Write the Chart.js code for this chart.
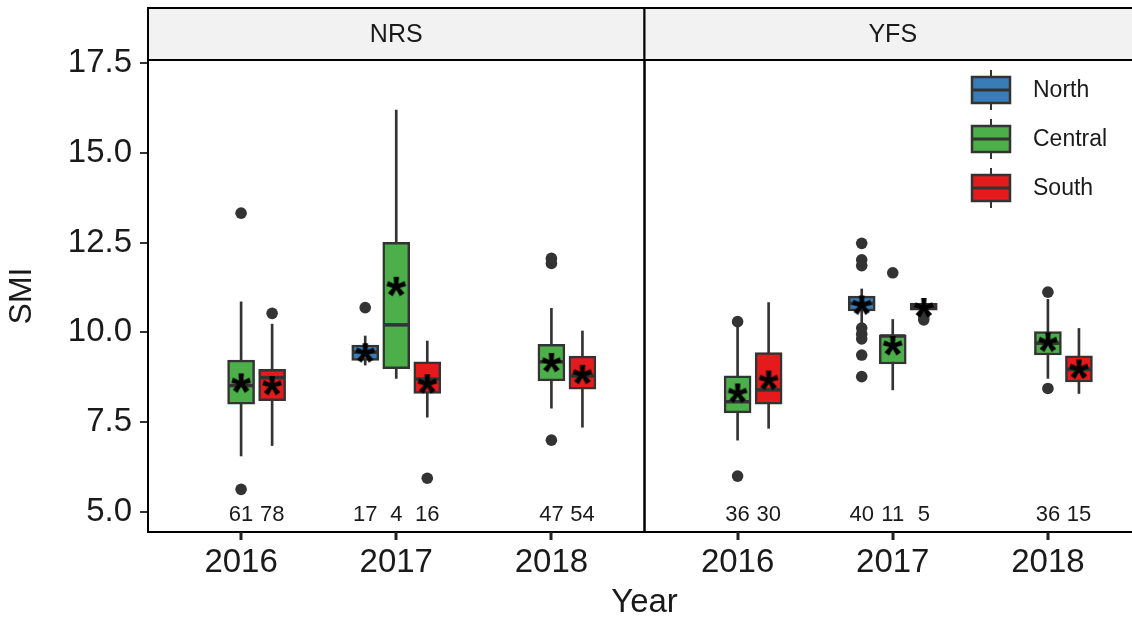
<!DOCTYPE html>
<html>
<head>
<meta charset="utf-8">
<script src="https://cdn.jsdelivr.net/npm/chart.js@4.4.1/dist/chart.umd.min.js"></script>
<style>
  html, body { margin: 0; padding: 0; background: #fff; overflow: hidden; width: 1132px; height: 619px; }
  canvas { display: block; }
</style>
</head>
<body>
<canvas id="smi" width="1142" height="619" style="width:1142px;height:619px"></canvas>
<script>
// ---- data ----
const sites = ['NRS', 'YFS'];
const years = ['2016', '2017', '2018'];
const regions = ['North', 'Central', 'South'];

const boxSite   = ['NRS', 'NRS', 'NRS', 'NRS', 'NRS', 'NRS', 'NRS', 'YFS', 'YFS', 'YFS', 'YFS', 'YFS', 'YFS', 'YFS'];
const boxYear   = ['2016', '2016', '2017', '2017', '2017', '2018', '2018', '2016', '2016', '2017', '2017', '2017', '2018', '2018'];
const boxRegion = ['Central', 'South', 'North', 'Central', 'South', 'Central', 'South', 'Central', 'South', 'North', 'Central', 'South', 'Central', 'South'];

const whiskerLow    = [6.56, 6.85, 9.09, 8.72, 7.64, 7.89, 7.36, 7.00, 7.33, 10.26, 8.40, 10.62, 8.72, 8.30];
const lowerQuartile = [8.00, 8.10, 9.22, 8.99, 8.30, 8.65, 8.42, 7.76, 8.00, 10.60, 9.12, 10.62, 9.37, 8.62];
const medianSMI     = [8.52, 8.74, 9.45, 10.21, 8.70, 9.18, 8.79, 8.07, 8.40, 10.81, 9.90, 10.70, 9.70, 8.97];
const upperQuartile = [9.23, 8.97, 9.65, 12.51, 9.18, 9.67, 9.34, 8.79, 9.44, 11.01, 9.93, 10.81, 10.02, 9.35];
const whiskerHigh   = [10.85, 10.23, 9.90, 16.19, 9.76, 10.67, 10.04, 10.20, 10.83, 11.21, 10.36, 10.81, 10.92, 10.11];
const meanSMI       = [8.58, 8.51, 9.42, 11.27, 8.56, 9.15, 8.82, 8.30, 8.66, 10.75, 9.62, 10.68, 9.72, 8.97];
const sampleSize    = [61, 78, 17, 4, 16, 47, 54, 36, 30, 40, 11, 5, 36, 15];
const outlierSMI = [
  [13.32, 5.63], [10.53], [10.69], [], [5.94], [12.06, 11.92, 7.00], [],
  [10.30, 6.00], [], [12.48, 12.02, 11.86, 10.12, 9.95, 9.82, 9.37, 8.77], [11.66], [10.44, 10.35], [11.12, 8.44], []
];
const yTicks = [5.0, 7.5, 10.0, 12.5, 15.0, 17.5];

// ---- styling & layout ----
const FONT = '"Liberation Sans", Arial, Helvetica, sans-serif';
const regionFill = { North: '#377EB8', Central: '#4DAF4A', South: '#E41A1C' };
const INK = '#333333';
const TEXT = '#1a1a1a';
const PANEL_SPAN = 3.2;                 // width of one facet in x units
const dodge = { North: -0.2, Central: 0, South: 0.2 };
const countLabelY = 4.92;

Chart.defaults.font.family = FONT;

const yearPos = (site, year) => sites.indexOf(site) * PANEL_SPAN + years.indexOf(year) + 1;
const boxX = i => yearPos(boxSite[i], boxYear[i]) + dodge[boxRegion[i]];
const xTickValues = [];
sites.forEach(s => years.forEach(y => xTickValues.push(yearPos(s, y))));

// asterisk marker for the group means
function makeAsterisk(inkWidth) {
  const probe = document.createElement('canvas').getContext('2d');
  probe.font = `bold 100px ${FONT}`;
  const pm = probe.measureText('*');
  const size = 100 * inkWidth / (pm.actualBoundingBoxLeft + pm.actualBoundingBoxRight);
  const c = document.createElement('canvas');
  c.width = 40; c.height = 40;
  const g = c.getContext('2d');
  g.font = `bold ${size}px ${FONT}`;
  g.fillStyle = '#000';
  g.textAlign = 'left';
  g.textBaseline = 'alphabetic';
  const m = g.measureText('*');
  const w = m.actualBoundingBoxLeft + m.actualBoundingBoxRight;
  const h = m.actualBoundingBoxAscent + m.actualBoundingBoxDescent;
  g.fillText('*', 20 - w / 2 + m.actualBoundingBoxLeft, 20 + h / 2 - m.actualBoundingBoxDescent);
  return c;
}
const asterisk = makeAsterisk(20);

// ---- datasets ----
const idx = boxSite.map((_, i) => i);
const byRegion = r => idx.filter(i => boxRegion[i] === r);

const datasets = [];
// whiskers
datasets.push({
  type: 'bar', label: 'whiskers', order: 6,
  data: idx.map(i => ({ x: boxX(i), y: [whiskerLow[i], whiskerHigh[i]] })),
  backgroundColor: INK, borderWidth: 0, barThickness: 2, grouped: false
});
// boxes
regions.forEach(r => {
  datasets.push({
    type: 'bar', label: r, order: 5,
    data: byRegion(r).map(i => ({ x: boxX(i), y: [lowerQuartile[i], upperQuartile[i]] })),
    backgroundColor: regionFill[r], borderColor: INK, borderWidth: 2.5, borderSkipped: false,
    barThickness: 27, grouped: false
  });
});
// medians
datasets.push({
  type: 'scatter', label: 'median', order: 4,
  data: idx.map(i => ({ x: boxX(i), y: medianSMI[i] })),
  pointStyle: 'line', pointRadius: 12.5, borderColor: INK, borderWidth: 3.5, backgroundColor: INK
});
// outliers
const outlierPts = [];
idx.forEach(i => outlierSMI[i].forEach(v => outlierPts.push({ x: boxX(i), y: v })));
datasets.push({
  type: 'scatter', label: 'outliers', order: 3,
  data: outlierPts,
  pointStyle: 'circle', pointRadius: 5.8, backgroundColor: INK, borderWidth: 0
});
// means
datasets.push({
  type: 'scatter', label: 'mean', order: 1,
  data: idx.map(i => ({ x: boxX(i), y: meanSMI[i] })),
  pointStyle: asterisk, pointRadius: 10
});

// ---- facet strips, panel frames, counts and legend ----
const facetPlugin = {
  id: 'facets',
  afterDraw(chart) {
    const { ctx, chartArea, scales: { x, y } } = chart;
    ctx.save();
    // sample sizes under each box
    ctx.fillStyle = TEXT;
    ctx.font = `22px ${FONT}`;
    ctx.textAlign = 'center';
    ctx.textBaseline = 'middle';
    idx.forEach(i => ctx.fillText(String(sampleSize[i]), x.getPixelForValue(boxX(i)), y.getPixelForValue(countLabelY)));

    // panels + strips
    sites.forEach((s, k) => {
      const left = x.getPixelForValue(0.4 + k * PANEL_SPAN);
      const right = x.getPixelForValue(0.4 + (k + 1) * PANEL_SPAN);
      const stripTop = 8;
      ctx.fillStyle = '#F2F2F2';
      ctx.fillRect(left, stripTop, right - left, chartArea.top - stripTop);
      ctx.strokeStyle = '#000';
      ctx.lineWidth = 2;
      ctx.strokeRect(left, stripTop, right - left, chartArea.top - stripTop);
      ctx.strokeRect(left, chartArea.top, right - left, chartArea.bottom - chartArea.top);
      ctx.fillStyle = TEXT;
      ctx.font = `25px ${FONT}`;
      ctx.textAlign = 'center';
      ctx.textBaseline = 'middle';
      ctx.fillText(s, (left + right) / 2, (stripTop + chartArea.top) / 2 + 1);
    });

    // year tick marks below the panels
    ctx.fillStyle = '#222';
    xTickValues.forEach(v => {
      const px = Math.round(x.getPixelForValue(v));
      ctx.fillRect(px - 1.5, chartArea.bottom, 3, 8);
    });

    // legend
    regions.forEach((r, k) => {
      const cy = 90 + k * 49;
      const lx = 972, lw = 38, lh = 26;
      ctx.strokeStyle = INK;
      ctx.lineWidth = 2;
      ctx.beginPath();
      ctx.moveTo(lx + lw / 2, cy - 20); ctx.lineTo(lx + lw / 2, cy + 20);
      ctx.stroke();
      ctx.fillStyle = regionFill[r];
      ctx.fillRect(lx, cy - lh / 2, lw, lh);
      ctx.lineWidth = 2.5;
      ctx.strokeRect(lx, cy - lh / 2, lw, lh);
      ctx.lineWidth = 3;
      ctx.beginPath();
      ctx.moveTo(lx, cy); ctx.lineTo(lx + lw, cy);
      ctx.stroke();
      ctx.fillStyle = TEXT;
      ctx.font = `23px ${FONT}`;
      ctx.textAlign = 'left';
      ctx.textBaseline = 'middle';
      ctx.fillText(r, 1033, cy + 1);
    });
    ctx.restore();
  }
};

new Chart(document.getElementById('smi'), {
  type: 'bar',
  data: { datasets },
  plugins: [facetPlugin],
  options: {
    responsive: false,
    animation: false,
    devicePixelRatio: 1,
    layout: { autoPadding: false, padding: { top: 60, left: 0, right: 1, bottom: 0 } },
    plugins: { legend: { display: false }, tooltip: { enabled: false } },
    scales: {
      x: {
        type: 'linear', min: 0.4, max: 0.4 + 2 * PANEL_SPAN, offset: false,
        afterBuildTicks: s => { s.ticks = xTickValues.map(v => ({ value: v })); },
        afterFit: s => { s.height = 87; s.paddingLeft = 0; s.paddingRight = 0; },
        ticks: {
          autoSkip: false, maxRotation: 0, padding: 4, color: TEXT,
          font: { size: 33 },
          callback: (v, i) => years[i % years.length]
        },
        grid: { offset: false, drawOnChartArea: false, drawTicks: true, tickLength: 7, color: INK, lineWidth: 2 },
        border: { display: true, color: '#000', width: 2 },
        title: { display: true, text: 'Year', color: TEXT, font: { size: 33, lineHeight: 1 }, padding: { top: 0, bottom: 0 } }
      },
      y: {
        type: 'linear', min: 4.443, max: 17.584,
        afterBuildTicks: s => { s.ticks = yTicks.map(v => ({ value: v })); },
        afterFit: s => { s.width = 148; s.paddingTop = 0; s.paddingBottom = 0; },
        ticks: { padding: 8, color: TEXT, font: { size: 33 }, callback: v => Number(v).toFixed(1) },
        grid: { drawOnChartArea: false, drawTicks: true, tickLength: 8, color: INK, lineWidth: 2 },
        border: { display: true, color: '#000', width: 2 },
        title: { display: true, text: 'SMI', color: TEXT, font: { size: 32, lineHeight: 1 }, padding: { top: 6, bottom: 0 } }
      }
    }
  }
});
</script>
</body>
</html>
